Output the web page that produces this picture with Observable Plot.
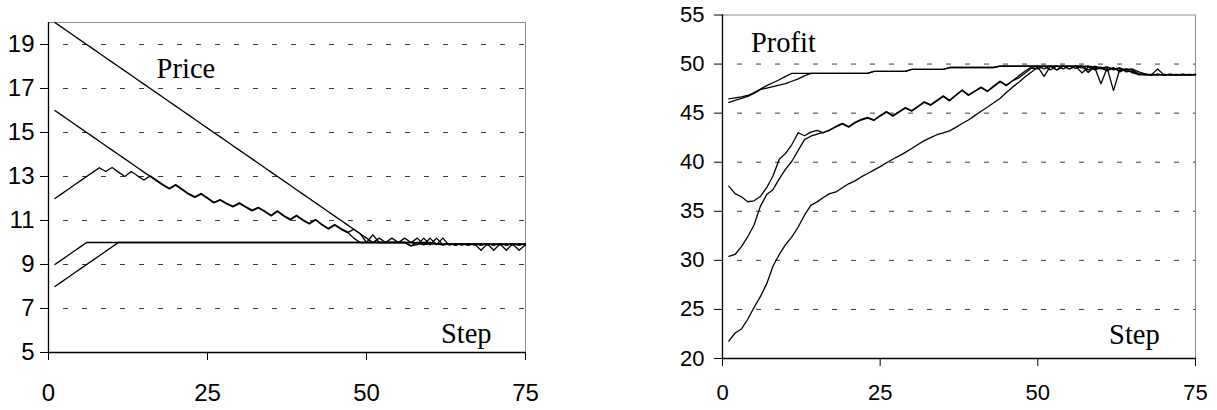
<!DOCTYPE html>
<html><head><meta charset="utf-8">
<script src="https://cdn.jsdelivr.net/npm/d3@7"></script>
<script src="https://cdn.jsdelivr.net/npm/@observablehq/plot@0.6"></script>
<style>
html,body{margin:0;padding:0;background:#fff;}
#wrap{position:relative;width:1217px;height:410px;background:#fff;}
#left{position:absolute;left:0;top:0;}
#right{position:absolute;left:620px;top:0;}
#err{position:absolute;left:10px;top:10px;color:red;font:14px sans-serif;}
</style></head><body>
<div id="wrap"><div id="left"></div><div id="right"></div><div id="err"></div></div>
<script>
// ---- tick labels ----
const stepTicks = [0, 25, 50, 75];
const priceTicks = [5, 7, 9, 11, 13, 15, 17, 19];
const priceGrid = [7, 9, 11, 13, 15, 17, 19];
const profitTicks = [20, 25, 30, 35, 40, 45, 50, 55];
const profitGrid = [25, 30, 35, 40, 45, 50];

// ---- Price series (value at step 1..75) ----
const priceA = [20.0,19.8,19.6,19.4,19.2,19.0,18.8,18.6,18.4,18.2,
  18.0,17.8,17.6,17.4,17.2,17.0,16.8,16.6,16.4,16.2,
  16.0,15.8,15.6,15.4,15.2,15.0,14.8,14.6,14.4,14.2,
  14.0,13.8,13.6,13.4,13.2,13.0,12.8,12.6,12.4,12.2,
  12.0,11.8,11.6,11.4,11.2,11.0,10.8,10.6,10.4,10.2,
  10.0,10.2,10.0,10.2,10.0,10.2,10.0,10.2,9.9,10.2,
  9.9,10.2,9.88,9.95,9.88,9.95,9.88,9.95,9.88,9.95,
  9.88,9.95,9.88,9.95,9.88];
const priceB = [16.0,15.8,15.6,15.4,15.2,15.0,14.8,14.6,14.4,14.2,
  14.0,13.8,13.6,13.4,13.2,13.0,12.8,12.6,12.43,12.6,
  12.4,12.2,12.05,12.2,12.0,11.8,11.92,11.75,11.62,11.77,
  11.6,11.44,11.57,11.4,11.21,11.41,11.2,11.03,11.21,11.0,
  10.84,11.02,10.8,10.61,10.79,10.6,10.45,10.6,10.4,10.0,
  10.35,10.0,10.0,10.0,10.0,10.0,9.85,9.9,10.2,9.9,
  10.2,9.9,9.95,9.88,9.95,9.88,9.95,9.88,9.95,9.88,
  9.95,9.88,9.95,9.88,9.95];
const priceC = [12.0,12.2,12.4,12.6,12.8,13.0,13.2,13.4,13.23,13.41,
  13.2,13.0,13.23,13.03,12.84,13.03,12.83,12.63,12.46,12.63,
  12.43,12.23,12.08,12.23,12.03,11.83,11.95,11.78,11.65,11.8,
  11.63,11.47,11.6,11.43,11.24,11.44,11.23,11.06,11.24,11.03,
  10.87,11.05,10.83,10.64,10.82,10.63,10.48,10.2,10.0,10.0,
  10.0,10.0,10.0,10.0,10.0,10.0,9.85,10.0,10.0,10.0,
  9.95,9.93,9.93,9.93,9.93,9.93,9.93,9.65,9.93,9.65,
  9.93,9.65,9.93,9.65,9.9];
const priceD = [9.0,9.2,9.4,9.6,9.8,10.0,10,10,10,10,
  10,10,10,10,10,10,10,10,10,10,
  10,10,10,10,10,10,10,10,10,10,
  10,10,10,10,10,10,10,10,10,10,
  10,10,10,10,10,10,10,10,10,10,
  10,10,10,10,10,10,10,9.93,9.93,9.93,
  9.93,9.93,9.93,9.93,9.93,9.93,9.93,9.93,9.93,9.93,
  9.93,9.93,9.93,9.93,9.93];
const priceE = [8.0,8.2,8.4,8.6,8.8,9.0,9.2,9.4,9.6,9.8,
  10,10,10,10,10,10,10,10,10,10,
  10,10,10,10,10,10,10,10,10,10,
  10,10,10,10,10,10,10,10,10,10,
  10,10,10,10,10,10,10,10,10,10,
  10,10,10,10,10,10,10,10,9.9,10.0,
  9.95,9.88,9.95,9.88,9.95,9.88,9.95,9.88,9.95,9.88,
  9.95,9.88,9.95,9.88,9.95];

// ---- Profit series (value at step 1..75) ----
const profitA = [46.45,46.55,46.65,46.8,47.1,47.45,47.8,48.1,48.4,48.75,
  49.05,49.05,49.05,49.05,49.05,49.05,49.05,49.05,49.05,49.05,
  49.05,49.05,49.05,49.25,49.25,49.25,49.25,49.25,49.25,49.45,
  49.45,49.45,49.45,49.45,49.45,49.65,49.65,49.65,49.65,49.65,
  49.65,49.65,49.65,49.78,49.78,49.78,49.78,49.78,49.78,49.78,
  49.78,49.78,49.78,49.78,49.78,49.78,49.78,49.15,49.78,49.6,
  49.7,49.5,49.6,49.4,49.5,49.2,49.0,48.9,48.95,48.9,
  48.95,48.9,48.95,48.9,48.95];
const profitB = [46.1,46.3,46.5,46.7,47.0,47.4,47.55,47.7,47.85,48.0,
  48.25,48.5,48.8,49.05,49.05,49.05,49.05,49.05,49.05,49.05,
  49.05,49.05,49.05,49.25,49.25,49.25,49.25,49.25,49.25,49.45,
  49.45,49.45,49.45,49.45,49.45,49.65,49.65,49.65,49.65,49.65,
  49.65,49.65,49.65,49.78,49.78,49.78,49.78,49.78,49.78,49.78,
  49.78,49.78,49.78,49.78,49.78,49.78,49.78,49.78,49.7,48.0,
  49.6,47.3,49.5,49.3,49.2,49.0,48.95,48.9,48.95,48.9,
  48.95,48.9,48.95,48.9,48.92];
const profitC = [37.56,36.8,36.47,35.97,36.07,36.5,37.4,38.6,40.3,40.9,
  41.8,43.0,42.7,43.06,43.24,43.0,43.3,43.6,43.9,43.57,
  44.0,44.3,44.5,44.25,44.7,45.1,44.7,45.1,45.5,45.2,
  45.65,46.1,45.8,46.25,46.7,46.25,46.8,47.3,46.8,47.2,
  47.6,47.2,47.7,48.2,47.8,48.3,48.8,49.3,49.7,49.78,
  49.5,49.8,49.4,49.8,49.5,49.8,49.6,49.78,49.5,49.7,
  49.4,49.6,49.3,49.5,49.1,48.95,48.9,48.95,48.9,48.95,
  48.9,48.95,48.9,48.95,48.9];
const profitD = [30.4,30.6,31.4,32.4,33.6,35.5,36.7,37.2,38.3,39.3,
  40.1,41.2,42.3,42.65,42.85,43.05,43.25,43.66,43.96,43.63,
  44.06,44.36,44.56,44.31,44.76,45.16,44.76,45.16,45.56,45.26,
  45.71,46.16,45.86,46.31,46.76,46.31,46.86,47.36,46.86,47.26,
  47.66,47.26,47.76,48.26,47.86,48.3,48.6,49.1,49.6,49.5,
  49.78,49.4,49.8,49.5,49.8,49.55,49.78,49.4,49.7,49.5,
  49.7,49.4,49.6,49.2,49.3,48.9,48.95,48.9,48.95,48.9,
  48.95,48.9,48.95,48.9,48.95];
const profitE = [21.77,22.6,23.0,24.0,25.2,26.3,27.6,29.4,30.6,31.6,
  32.4,33.4,34.6,35.6,35.96,36.4,36.8,36.97,37.4,37.8,
  38.1,38.5,38.85,39.2,39.55,39.95,40.3,40.65,41.0,41.4,
  41.8,42.2,42.5,42.8,43.0,43.2,43.55,43.95,44.3,44.75,
  45.2,45.6,46.05,46.5,47.1,47.65,48.15,48.7,49.2,49.7,
  48.75,49.78,49.4,49.78,49.5,49.78,49.1,49.7,49.4,49.6,
  49.3,49.65,49.2,49.5,49.4,49.0,48.92,48.9,49.5,48.9,
  48.92,48.9,48.92,48.9,48.92];

const priceSeries = [priceA, priceB, priceC, priceD, priceE];
const profitSeries = [profitA, profitB, profitC, profitD, profitE];

const bad = [...priceSeries, ...profitSeries].map((s, i) => s.length).filter(n => n !== 75);
if (bad.length) document.getElementById("err").textContent = "length mismatch: " + [...priceSeries, ...profitSeries].map(s => s.length).join(",");

const rows = vals => vals.map((v, i) => ({step: i + 1, value: v}));
const sansFont = "'Liberation Sans', Arial, Helvetica, sans-serif";
const serifFont = "'Liberation Serif', 'Times New Roman', Times, serif";

function panel(cfg) {
  return Plot.plot({
    width: cfg.width,
    height: 410,
    marginTop: cfg.mt,
    marginBottom: cfg.mb,
    marginLeft: cfg.ml,
    marginRight: cfg.mr,
    x: {domain: [0, 75], label: null},
    y: {domain: cfg.yDomain, label: null},
    style: {fontFamily: sansFont, background: "white", color: "black", overflow: "visible"},
    marks: [
      Plot.frame({stroke: "#8c8c8c", strokeWidth: 1}),
      Plot.ruleY(cfg.grid, {stroke: "#3a3a3a", strokeWidth: 1, strokeDasharray: "5,14", strokeDashoffset: 4}),
      ...cfg.series.map(s => Plot.line(rows(s), {x: "step", y: "value", stroke: "black", strokeWidth: 1.3})),
      Plot.ruleX([0], {stroke: "black", strokeWidth: 1.3}),
      Plot.ruleY([cfg.yDomain[0]], {stroke: "black", strokeWidth: 1.3}),
      Plot.axisY(cfg.yTicks, {label: null, tickSize: 8, tickPadding: cfg.yPad, fontSize: cfg.font, stroke: "black"}),
      Plot.axisX(stepTicks, {label: null, tickSize: 8, tickPadding: cfg.xPad, fontSize: cfg.font, stroke: "black"}),
      ...cfg.labels.map(l => Plot.text([l.t], {x: l.x, y: l.y, text: d => d, textAnchor: "start", lineAnchor: "bottom", fontSize: 28.5, fontFamily: serifFont, fill: "black"}))
    ]
  });
}

document.getElementById("left").appendChild(panel({
  width: 545, mt: 22, mb: 58, ml: 48, mr: 20,
  yDomain: [5, 20], yTicks: priceTicks, grid: priceGrid,
  series: priceSeries, font: 24, yPad: 6, xPad: 23,
  labels: [{t: "Price", x: 17, y: 17.5}, {t: "Step", x: 61.7, y: 5.45}]
}));

document.getElementById("right").appendChild(panel({
  width: 597, mt: 14.5, mb: 52, ml: 102, mr: 22,
  yDomain: [20, 55], yTicks: profitTicks, grid: profitGrid,
  series: profitSeries, font: 22, yPad: 10, xPad: 18,
  labels: [{t: "Profit", x: 4.5, y: 51.25}, {t: "Step", x: 61.3, y: 21.43}]
}));
</script>
</body></html>
